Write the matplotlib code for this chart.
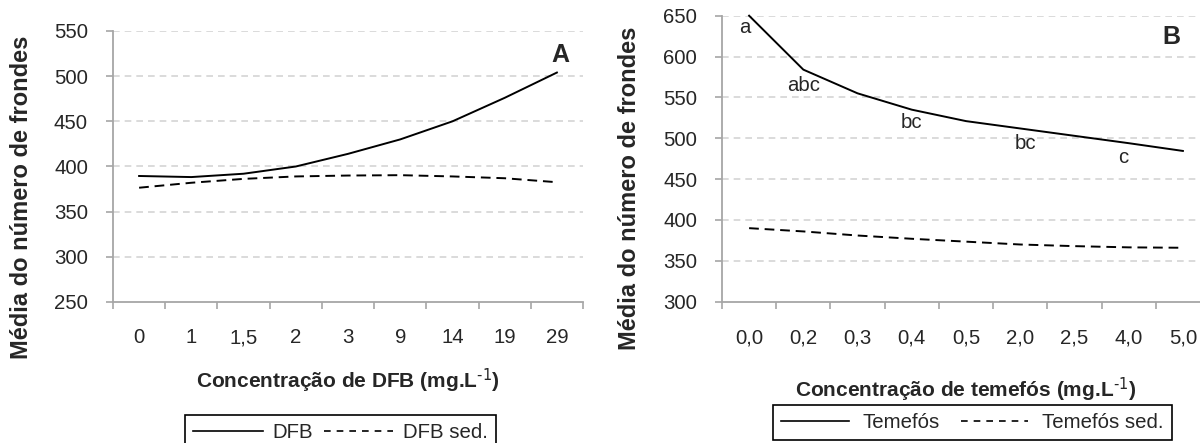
import numpy as np
import matplotlib.pyplot as plt
from matplotlib.lines import Line2D

plt.rcParams['font.family'] = ['Liberation Sans', 'DejaVu Sans']
plt.rcParams['mathtext.default'] = 'regular'

# dados
dfb_cats = ['0', '1', '1,5', '2', '3', '9', '14', '19', '29']
dfb = [389.5, 388.3, 392, 400, 414, 430, 450, 476, 504]
dfb_sed = [376.5, 382, 386.3, 389, 390, 390.4, 389, 387, 382.6]

tem_cats = ['0,0', '0,2', '0,3', '0,4', '0,5', '2,0', '2,5', '4,0', '5,0']
tem = [650, 584, 555, 535, 521, 512, 503, 494, 484.5]
tem_sed = [390, 386, 381, 377, 373.5, 370, 368, 366.5, 366]
tem_letters = ['a', 'abc', 'bc', 'bc', 'c']
letter_pos = [(-0.08, 635), (1.0, 565), (3.0, 519), (5.1, 493), (6.9, 477)]

txt = '#262626'
spine = '#a6a6a6'
grid_c = '#d4d4d4'
fs = 14.7

fig = plt.figure(figsize=(12, 4.43), dpi=100)
axA = fig.add_axes([113/1200, 1-302/443, 470/1200, 271/443])
axB = fig.add_axes([722/1200, 1-301.7/443, 488/1200, 286/443])


def style(ax, cats, ylo, yhi):
    x = np.arange(len(cats))
    ax.set_xlim(-0.5, len(cats) - 0.5)
    ax.set_ylim(ylo, yhi)
    ax.set_yticks(np.arange(ylo, yhi + 1, 50))
    ax.set_xticks(x)
    ax.set_xticklabels(cats)
    ax.set_xticks(np.arange(-0.5, len(cats)), minor=True)
    ax.tick_params(axis='x', which='major', length=0, pad=19, labelsize=fs, labelcolor=txt)
    ax.tick_params(axis='x', which='minor', length=5, width=1.2, color=spine)
    ax.tick_params(axis='y', length=5, width=1.2, color=spine, pad=13, labelsize=fs, labelcolor=txt)
    for s in ['top', 'right']:
        ax.spines[s].set_visible(False)
    for s in ['left', 'bottom']:
        ax.spines[s].set_color(spine)
        ax.spines[s].set_linewidth(1.3)
    for yv in np.arange(ylo + 50, yhi + 1, 50):
        ax.axhline(yv, color=grid_c, lw=1.2, ls=(0, (4, 3)), zorder=0)
    return x


x = style(axA, dfb_cats, 250, 550)
axA.plot(x, dfb, color='black', lw=1.4)
axA.plot(x, dfb_sed, color='black', lw=1.4, ls=(0, (5, 3)))
axA.text(8.06, 523, 'A', fontsize=18, fontweight='bold', ha='center', va='center', color=txt)

x = style(axB, tem_cats, 300, 650)
axB.plot(x, tem, color='black', lw=1.4, clip_on=False)
axB.plot(x, tem_sed, color='black', lw=1.4, ls=(0, (5, 3)))
for t, (px, py) in zip(tem_letters, letter_pos):
    axB.text(px, py, t, fontsize=fs, ha='center', va='center', color=txt)
axB.text(7.78, 624, 'B', fontsize=18, fontweight='bold', ha='center', va='center', color=txt)

ylab = 'Média do número de frondes'
fig.text(22/1200, 1-197/443, ylab, rotation=90, fontsize=17, fontweight='bold',
         ha='center', va='center', color=txt)
fig.text(630/1200, 1-188/443, ylab, rotation=90, fontsize=17, fontweight='bold',
         ha='center', va='center', color=txt)
fig.text(348/1200, 1-381/443, r'Concentração de DFB (mg.L$^{\text{-1}}$)', fontsize=15,
         fontweight='bold', ha='center', va='center', color=txt)
fig.text(966/1200, 1-390/443, r'Concentração de temefós (mg.L$^{\text{-1}}$)', fontsize=15,
         fontweight='bold', ha='center', va='center', color=txt)

# (rótulos, canto superior esquerdo, handlelength, handletextpad, columnspacing)
legends = [(['DFB', 'DFB sed.'], (185/1200, 1-415/443), 3.4, 0.5, 0.5),
           (['Temefós', 'Temefós sed.'], (773/1200, 1-405/443), 3.3, 0.7, 1.0)]
for labels, anchor, hl, htp, cs in legends:
    handles = [Line2D([], [], color='black', lw=1.2),
               Line2D([], [], color='black', lw=1.2, ls=(0, (4, 3.6)))]
    leg = fig.legend(handles, labels, loc='upper left', bbox_to_anchor=anchor, ncol=2,
                     fontsize=fs, frameon=True, fancybox=False, framealpha=1,
                     edgecolor='black', borderaxespad=0, handlelength=hl,
                     handletextpad=htp, columnspacing=cs, borderpad=0.4)
    leg.get_frame().set_linewidth(1.2)
    for t in leg.get_texts():
        t.set_color(txt)

fig.savefig('out.png', dpi=100)
